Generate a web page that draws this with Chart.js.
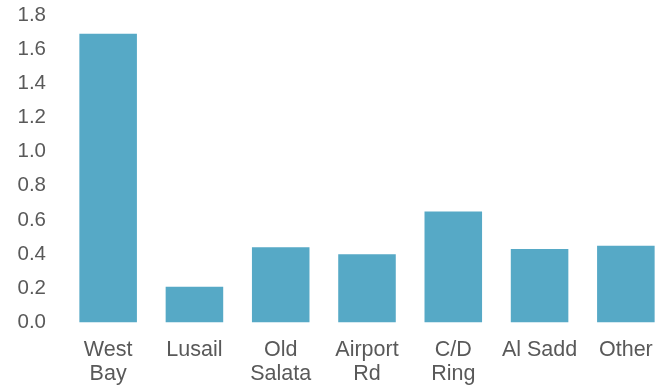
<!DOCTYPE html>
<html>
<head>
<meta charset="utf-8">
<script src="https://cdn.jsdelivr.net/npm/chart.js@4/dist/chart.umd.min.js"></script>
<style>
  html, body { margin: 0; padding: 0; background: #ffffff; }
  #wrap { width: 669px; height: 385px; position: relative; }
</style>
</head>
<body>
<div id="wrap"><canvas id="chart"></canvas></div>
<script>
// districts, split over two lines where the label wraps
const districts = [
    ['West', 'Bay'],
    'Lusail',
    ['Old', 'Salata'],
    ['Airport', 'Rd'],
    ['C/D', 'Ring'],
    'Al Sadd',
    'Other'
];
const values = [1.69, 0.21, 0.44, 0.40, 0.65, 0.43, 0.45];

const BAR_COLOR = '#56a9c6';
const TEXT_COLOR = '#595959';
const FAMILY = 'Liberation Sans, Arial, sans-serif';

new Chart(document.getElementById('chart'), {
    type: 'bar',
    data: {
        labels: districts,
        datasets: [{
            data: values,
            backgroundColor: BAR_COLOR,
            borderWidth: 0,
            barPercentage: 0.667,
            categoryPercentage: 1
        }]
    },
    options: {
        responsive: true,
        maintainAspectRatio: false,
        animation: false,
        layout: { padding: { top: 15, right: 0, bottom: 0, left: 0 } },
        plugins: {
            legend: { display: false },
            tooltip: { enabled: false }
        },
        scales: {
            x: {
                grid: { display: false, drawTicks: false },
                border: { display: false },
                afterFit: (scale) => {
                    scale.height = 62.5;
                    scale.paddingLeft = 0;
                    scale.paddingRight = 0;
                },
                ticks: {
                    color: TEXT_COLOR,
                    font: { family: FAMILY, size: 21.5, lineHeight: 1.116 },
                    padding: 15.5,
                    maxRotation: 0,
                    autoSkip: false
                }
            },
            y: {
                min: 0,
                max: 1.8,
                grid: { display: false, drawTicks: false },
                border: { display: false },
                afterFit: (scale) => {
                    scale.width = 65;
                    scale.paddingTop = 0;
                    scale.paddingBottom = 0;
                },
                ticks: {
                    stepSize: 0.2,
                    color: TEXT_COLOR,
                    font: { family: FAMILY, size: 20.5 },
                    padding: 19,
                    callback: (value) => value.toFixed(1)
                }
            }
        }
    }
});
</script>
</body>
</html>
